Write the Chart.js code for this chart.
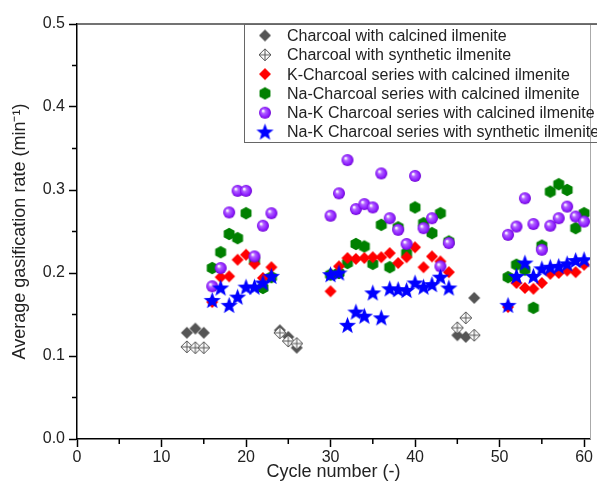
<!DOCTYPE html>
<html>
<head>
<meta charset="utf-8">
<script src="https://cdn.jsdelivr.net/npm/chart.js@4.4.1/dist/chart.umd.min.js"></script>
<style>
  body { margin: 0; background: #fff; }
  #wrap { width: 597px; height: 484px; position: relative; }
</style>
</head>
<body>
<div id="wrap"><canvas id="rateChart"></canvas></div>
<script>
// cycle numbers
const charcoalCycles = [13, 14, 15, 24, 25, 26, 45, 46, 47];
const alkaliCycles = [16, 17, 18, 19, 20, 21, 22, 23,
  30, 31, 32, 33, 34, 35, 36, 37, 38, 39, 40, 41, 42, 43, 44,
  51, 52, 53, 54, 55, 56, 57, 58, 59, 60];

// average gasification rate (min-1)
const charcoalCalcined = [0.128, 0.133, 0.128, 0.131, 0.123, 0.110, 0.125, 0.123, 0.170];
const charcoalSynthetic = [0.111, 0.110, 0.110, 0.128, 0.118, 0.115, 0.134, 0.146, 0.125];
const kCalcined = [0.165, 0.195, 0.196, 0.216, 0.222, 0.211, 0.194, 0.207,
  0.178, 0.208, 0.218, 0.217, 0.218, 0.219, 0.219, 0.224, 0.212, 0.219, 0.231, 0.207, 0.220, 0.214, 0.201,
  0.159, 0.188, 0.182, 0.181, 0.188, 0.199, 0.200, 0.203, 0.201, 0.210];
const naCalcined = [0.206, 0.225, 0.247, 0.242, 0.272, 0.215, 0.182, 0.195,
  0.198, 0.200, 0.212, 0.235, 0.232, 0.211, 0.258, 0.207, 0.255, 0.224, 0.279, 0.260, 0.248, 0.272, 0.238,
  0.195, 0.210, 0.204, 0.158, 0.233, 0.298, 0.307, 0.300, 0.254, 0.272];
const naKCalcined = [0.184, 0.206, 0.273, 0.299, 0.299, 0.220, 0.257, 0.272,
  0.269, 0.296, 0.336, 0.277, 0.283, 0.279, 0.320, 0.266, 0.252, 0.235, 0.317, 0.254, 0.266, 0.208, 0.236,
  0.246, 0.256, 0.290, 0.259, 0.228, 0.257, 0.266, 0.280, 0.268, 0.262];
const naKSynthetic = [0.167, 0.182, 0.161, 0.171, 0.183, 0.183, 0.188, 0.196,
  0.198, 0.200, 0.137, 0.153, 0.148, 0.176, 0.146, 0.181, 0.180, 0.179, 0.188, 0.183, 0.186, 0.195, 0.182,
  0.161, 0.196, 0.212, 0.196, 0.205, 0.207, 0.208, 0.211, 0.215, 0.216];

const seriesNames = [
  'Charcoal with calcined ilmenite',
  'Charcoal with synthetic ilmenite',
  'K-Charcoal series with calcined ilmenite',
  'Na-Charcoal series with calcined ilmenite',
  'Na-K Charcoal series with calcined ilmenite',
  'Na-K Charcoal series with synthetic ilmenite'
];
const xTicks = [0, 10, 20, 30, 40, 50, 60];
const yTicks = [0, 0.1, 0.2, 0.3, 0.4, 0.5];

const FONT = 'Arial, "Liberation Sans", sans-serif';

// 記号の画像を作る
function makeMarker(kind, color) {
  const c = document.createElement('canvas');
  const s = kind === 'star' ? 19 : 14;
  c.width = s; c.height = s;
  const g = c.getContext('2d');
  const m = s / 2;
  if (kind === 'diamond' || kind === 'diamondCross') {
    g.beginPath();
    g.moveTo(m, m - 6); g.lineTo(m + 6, m); g.lineTo(m, m + 6); g.lineTo(m - 6, m); g.closePath();
    if (kind === 'diamond') {
      g.fillStyle = color; g.fill();
    } else {
      g.fillStyle = '#fff'; g.fill();
      g.strokeStyle = color; g.lineWidth = 1; g.stroke();
      g.beginPath();
      g.moveTo(m, m - 6); g.lineTo(m, m + 6);
      g.moveTo(m - 6, m); g.lineTo(m + 6, m);
      g.stroke();
    }
  } else if (kind === 'hexagon') {
    g.beginPath();
    for (let i = 0; i < 6; i++) {
      const a = Math.PI / 6 + i * Math.PI / 3;
      const px = m + 6.3 * Math.cos(a), py = m + 6.3 * Math.sin(a);
      if (i === 0) g.moveTo(px, py); else g.lineTo(px, py);
    }
    g.closePath();
    g.fillStyle = color; g.fill();
  } else if (kind === 'sphere') {
    const grad = g.createRadialGradient(m - 2, m - 2, 0.5, m, m, 6.2);
    grad.addColorStop(0, '#ffffff');
    grad.addColorStop(0.3, '#b060ff');
    grad.addColorStop(0.75, color);
    grad.addColorStop(1, '#6a00c8');
    g.beginPath(); g.arc(m, m, 6, 0, Math.PI * 2);
    g.fillStyle = grad; g.fill();
  } else if (kind === 'star') {
    g.beginPath();
    for (let i = 0; i < 10; i++) {
      const r = i % 2 === 0 ? 9 : 3.8;
      const a = -Math.PI / 2 + i * Math.PI / 5;
      const px = m + r * Math.cos(a), py = m + 0.5 + r * Math.sin(a);
      if (i === 0) g.moveTo(px, py); else g.lineTo(px, py);
    }
    g.closePath();
    g.fillStyle = color; g.fill();
  }
  return c;
}

const markers = [
  makeMarker('diamond', '#555555'),
  makeMarker('diamondCross', '#555555'),
  makeMarker('diamond', '#ff0000'),
  makeMarker('hexagon', '#008000'),
  makeMarker('sphere', '#8c1cff'),
  makeMarker('star', '#0000ff')
];

function toPoints(xs, ys) {
  return xs.map((x, i) => ({ x: x, y: ys[i] }));
}

const seriesData = [
  toPoints(charcoalCycles, charcoalCalcined),
  toPoints(charcoalCycles, charcoalSynthetic),
  toPoints(alkaliCycles, kCalcined),
  toPoints(alkaliCycles, naCalcined),
  toPoints(alkaliCycles, naKCalcined),
  toPoints(alkaliCycles, naKSynthetic)
];
// 重なり順（小さいほど上）
const drawOrder = [5, 4, 2, 3, 1, 0];

// 枠・補助目盛・凡例
const framePlugin = {
  id: 'frame',
  afterDraw(chart) {
    const ctx = chart.ctx;
    const a = chart.chartArea;
    const xs = chart.scales.x, ys = chart.scales.y;
    ctx.save();
    ctx.strokeStyle = '#444';
    ctx.lineWidth = 1.5;
    ctx.beginPath();
    ctx.moveTo(a.left, a.top); ctx.lineTo(chart.width, a.top);
    ctx.stroke();
    ctx.strokeStyle = '#aaa';
    ctx.lineWidth = 1;
    ctx.beginPath();
    ctx.moveTo(a.right + 0.5, a.top); ctx.lineTo(a.right + 0.5, a.bottom);
    ctx.stroke();

    // 補助目盛
    ctx.strokeStyle = '#000';
    ctx.lineWidth = 1.5;
    ctx.beginPath();
    for (let v = 5; v < 60; v += 10) {
      const px = xs.getPixelForValue(v);
      ctx.moveTo(px, a.bottom); ctx.lineTo(px, a.bottom + 5);
    }
    for (let v = 0.05; v < 0.5; v += 0.1) {
      const py = ys.getPixelForValue(v);
      ctx.moveTo(a.left, py); ctx.lineTo(a.left - 5, py);
    }
    ctx.stroke();

    // 凡例
    const lx = 244, ly = 24, rowH = 19.3;
    ctx.strokeStyle = '#666';
    ctx.lineWidth = 1;
    ctx.strokeRect(lx + 0.5, ly + 0.5, 400, 118);
    ctx.font = '16px ' + FONT;
    ctx.fillStyle = '#222';
    ctx.textBaseline = 'middle';
    seriesNames.forEach((name, i) => {
      const cy = ly + 11.5 + i * rowH;
      const mk = markers[i];
      ctx.drawImage(mk, 265 - mk.width / 2, cy - mk.height / 2);
      ctx.fillText(name, 287, cy + 1);
    });
    ctx.restore();
  }
};

new Chart(document.getElementById('rateChart'), {
  type: 'scatter',
  data: {
    datasets: seriesNames.map((name, i) => ({
      label: name,
      data: seriesData[i],
      pointStyle: markers[i],
      pointRadius: 6,
      pointHoverRadius: 6,
      order: drawOrder[i],
      showLine: false
    }))
  },
  options: {
    responsive: true,
    maintainAspectRatio: false,
    animation: false,
    events: [],
    layout: { padding: { top: 24, right: 2, left: 0, bottom: 0 } },
    plugins: {
      legend: { display: false },
      tooltip: { enabled: false }
    },
    scales: {
      x: {
        type: 'linear',
        min: 0,
        max: 60.7,
        afterBuildTicks(scale) {
          scale.ticks = xTicks.map(v => ({ value: v }));
        },
        afterFit(scale) {
          scale.height = 45;
          scale.paddingLeft = 0;
          scale.paddingRight = 0;
        },
        ticks: {
          autoSkip: false,
          maxRotation: 0,
          includeBounds: false,
          color: '#222',
          padding: 1,
          font: { family: FONT, size: 16 }
        },
        grid: {
          drawOnChartArea: false,
          drawTicks: true,
          tickLength: 8,
          tickColor: '#000',
          tickWidth: 1.5
        },
        border: { color: '#000', width: 1.5 },
        title: {
          display: true,
          text: 'Cycle number (-)',
          color: '#222',
          font: { family: FONT, size: 18 },
          padding: { top: 0, bottom: 1 }
        }
      },
      y: {
        min: 0,
        max: 0.5,
        afterBuildTicks(scale) {
          scale.ticks = yTicks.map(v => ({ value: v }));
        },
        afterFit(scale) {
          scale.width = 77;
          scale.paddingTop = 0;
          scale.paddingBottom = 0;
        },
        ticks: {
          color: '#222',
          padding: 4,
          font: { family: FONT, size: 16 },
          callback: v => v.toFixed(1)
        },
        grid: {
          drawOnChartArea: false,
          drawTicks: true,
          tickLength: 8,
          tickColor: '#000',
          tickWidth: 1.5
        },
        border: { color: '#000', width: 1.5 },
        title: {
          display: true,
          text: 'Average gasification rate (min\u207B\u00B9)',
          color: '#222',
          font: { family: FONT, size: 18 },
          padding: { top: 9, bottom: 0 }
        }
      }
    }
  },
  plugins: [framePlugin]
});
</script>
</body>
</html>
